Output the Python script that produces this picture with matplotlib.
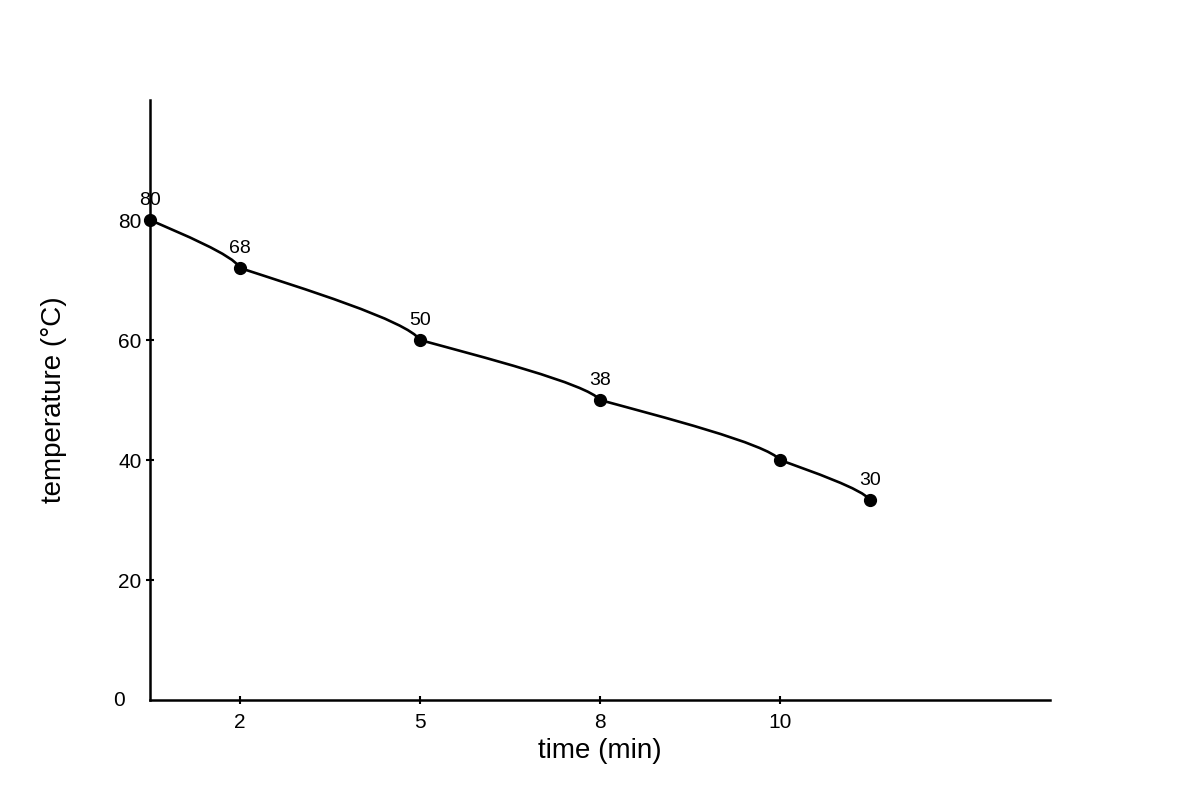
import matplotlib
matplotlib.use("Agg")
import matplotlib.pyplot as plt
from matplotlib.path import Path
from matplotlib.patches import PathPatch

plt.rcParams['font.family'] = ['Liberation Sans', 'DejaVu Sans']

# 数据：x 为等距的位置序号，刻度文字另给
x_pos = [0, 1, 3, 5, 7, 8]
temps = [80, 72, 60, 50, 40, 33.3]
point_labels = ['80', '68', '50', '38', '', '30']

x_tick_pos = [1, 3, 5, 7]
x_tick_labels = ['2', '5', '8', '10']
y_ticks = [20, 40, 60, 80]


def curve_path(xs, ys):
    ''' 每两点之间画一段三次贝塞尔曲线 '''
    verts = [(xs[0], ys[0])]
    codes = [Path.MOVETO]
    for i in range(len(xs) - 1):
        x0, y0 = xs[i], ys[i]
        x1, y1 = xs[i + 1], ys[i + 1]
        dx, dy = x1 - x0, y1 - y0
        verts += [(x0 + 0.33 * dx, y0 + 0.27 * dy),
                  (x1 - 0.07 * dx, y1 - 0.27 * dy),
                  (x1, y1)]
        codes += [Path.CURVE4] * 3
    return Path(verts, codes)


def main():
    fig = plt.figure(figsize=(12, 8), dpi=100)
    ax = fig.add_axes([0.125, 0.125, 0.75, 0.75])

    ax.add_patch(PathPatch(curve_path(x_pos, temps), fill=False,
                           edgecolor='black', lw=1.9, clip_on=False))
    ax.plot(x_pos, temps, 'o', color='black', markersize=8.5, zorder=3,
            clip_on=False)

    for x, y, s in zip(x_pos, temps, point_labels):
        if s:
            ax.annotate(s, (x, y), xytext=(0, 11), textcoords='offset points',
                        ha='center', va='baseline', fontsize=14)

    ax.set_xlim(0, 10)
    ax.set_ylim(0, 100)

    ax.set_xticks(x_tick_pos)
    ax.set_xticklabels(x_tick_labels)
    ax.set_yticks(y_ticks)
    ax.set_yticklabels([str(v) for v in y_ticks])
    ax.tick_params(direction='inout', length=6, width=1.5, labelsize=15)
    ax.tick_params(axis='x', pad=6)
    ax.tick_params(axis='y', pad=3)

    # 原点的 0 没有刻度线
    ax.annotate('0', (0, 0), xytext=(-22, 0), textcoords='offset points',
                ha='center', va='center', fontsize=15, annotation_clip=False)

    for side in ['top', 'right']:
        ax.spines[side].set_visible(False)
    for side in ['left', 'bottom']:
        ax.spines[side].set_linewidth(1.8)

    ax.set_xlabel('time (min)', fontsize=20, labelpad=5)
    ax.set_ylabel('temperature (°C)', fontsize=20, labelpad=37)

    fig.savefig('out.png', dpi=100)


if __name__ == "__main__":
    main()
